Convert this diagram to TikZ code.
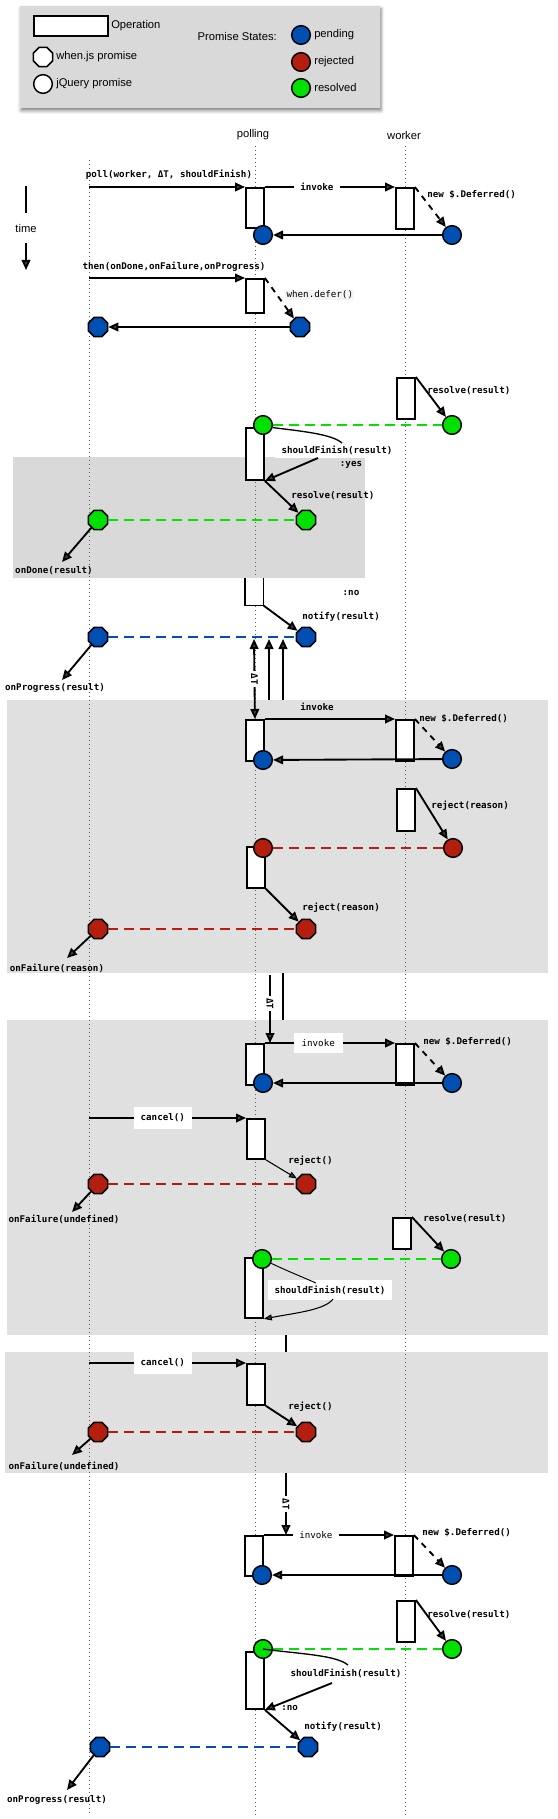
\documentclass[tikz,border=0pt]{standalone}
\usepackage{fontspec}
\setmainfont{Liberation Sans}
\newfontfamily\monof{DejaVu Sans Mono}
\usetikzlibrary{arrows.meta,shapes.geometric,shadows.blur}
\definecolor{pend}{RGB}{0,80,180}
\definecolor{rej}{RGB}{180,30,15}
\definecolor{res}{RGB}{0,225,0}
\definecolor{legbg}{RGB}{217,217,217}
\definecolor{secbg}{RGB}{224,224,224}
\tikzset{
 opbox/.style={draw, fill=white, line width=1.4pt, inner sep=0pt, minimum width=13.5pt, anchor=north west},
 jq/.style={circle, draw, line width=1.1pt, minimum size=14pt, inner sep=0pt},
 wj/.style={regular polygon, regular polygon sides=8, draw, line width=1.1pt, minimum size=15.5pt, inner sep=0pt},
 lbl/.style={font=\monof\bfseries\fontsize{6.9}{8}\selectfont, inner sep=0pt},
 lblr/.style={font=\monof\fontsize{6.9}{8}\selectfont, inner sep=0pt},
 stxt/.style={font=\fontsize{8.4}{10}\selectfont, inner sep=0pt},
 msg/.style={line width=1.4pt, -{Triangle[length=7.5pt,width=6.5pt]}},
 dmsg/.style={line width=1.4pt, {Triangle[length=7.5pt,width=6.5pt]}-{Triangle[length=7.5pt,width=6.5pt]}},
 thinmsg/.style={line width=0.8pt, -{Triangle[length=6pt,width=4.5pt]}},
 newd/.style={msg, dash pattern=on 4.5pt off 4pt},
 link/.style={line width=1.5pt, dash pattern=on 7.5pt off 4.5pt},
 life/.style={line width=0.6pt, black!65, dash pattern=on 0.75pt off 2.25pt},
 bar/.style={line width=1.4pt},
}
\begin{document}
\begin{tikzpicture}[x=0.75pt,y=-0.75pt]
\useasboundingbox (0,0) rectangle (557,1819);

% ---------- backgrounds ----------
\path[fill=legbg, blur shadow={shadow xshift=0.8pt, shadow yshift=-2pt, shadow blur radius=2.5pt, shadow opacity=50}] (20,6) rectangle (380,108);
\fill[legbg] (13,457) rectangle (365,578);
\fill[secbg] (7,700) rectangle (548,973);
\fill[secbg] (7,1020) rectangle (548,1335);
\fill[secbg] (5,1352) rectangle (548,1473);

% ---------- legend ----------
\node[opbox, line width=1.5pt, minimum width=55.5pt, minimum height=15pt] (legop) at (33,15) {};
\node[stxt, anchor=west] (legopt) at (111,26) {Operation};
\node[wj, fill=white] (legwj) at (43,57) {};
\node[stxt, anchor=west] (legwjt) at (56,57) {when.js promise};
\node[jq, fill=white] (legjq) at (43,84) {};
\node[stxt, anchor=west] (legjqt) at (56,84) {jQuery promise};
\node[stxt, anchor=east] (legps) at (277,37) {Promise States:};
\node[jq, fill=pend] (legpe) at (301,35) {};
\node[stxt, anchor=west] (legpet) at (314,35) {pending};
\node[jq, fill=rej] (legre) at (301,62) {};
\node[stxt, anchor=west] (legret) at (314,62) {rejected};
\node[jq, fill=res] (legrs) at (301,88) {};
\node[stxt, anchor=west] (legrst) at (314,88) {resolved};

% ---------- lifelines ----------
\node[stxt] (hpoll) at (253,135) {polling};
\node[stxt] (hwork) at (404,135) {worker};
\coordinate (lc0) at (89,160); \coordinate (lc1) at (89,1815);
\coordinate (lp0) at (255,146); \coordinate (lp1) at (255,1815);
\coordinate (lw0) at (405,146); \coordinate (lw1) at (405,1815);
\draw[life] (lc0) -- (lc1);
\draw[life] (lp0) -- (lp1);
\draw[life] (lw0) -- (lw1);

% time
\coordinate (t0) at (26,186); \coordinate (t1) at (26,270);
\draw[msg] (t0) -- node[stxt, fill=white, inner ysep=8pt] (timel) {time} (t1);

% ---------- section 1 ----------
\node[opbox, minimum height=30pt] (p1) at (245,187) {};
\node[opbox, minimum height=30.75pt] (w1) at (395,187) {};
\coordinate (c1s) at (89,187);
\draw[msg] (c1s) -- (p1.north west);
\node[lbl] (l1) at (169,175) {poll(worker, ΔT, shouldFinish)};
\draw[msg] (p1.north east) -- node[lbl, fill=white, pos=0.4, inner xsep=5pt, inner ysep=2pt] (l2) {invoke} (w1.north west);
\node[jq, fill=pend] (w1c) at (452,235) {};
\draw[newd] (w1.north east) -- (w1c);
\node[lbl, anchor=west] (l3) at (427,195) {new \$.Deferred()};
\node[jq, fill=pend] (p1c) at (263,235) {};
\draw[msg] (w1c) -- (p1c);

\node[opbox, minimum height=25.5pt] (p2) at (245,278) {};
\coordinate (c2s) at (89,278);
\draw[msg] (c2s) -- (p2.north west);
\node[lbl] (l4) at (174,267) {then(onDone,onFailure,onProgress)};
\node[wj, fill=pend] (p2o) at (300,327) {};
\draw[newd] (p2.north east) -- (p2o);
\node[lblr, anchor=west, fill=black!4, inner sep=1pt] (l5) at (285,295) {when.defer()};
\node[wj, fill=pend] (c1o) at (98,327) {};
\draw[msg] (p2o) -- (c1o);

% ---------- section 2 ----------
\node[opbox, minimum height=30.75pt] (w2) at (396,377) {};
\node[jq, fill=res] (w2c) at (452,425) {};
\draw[msg] (w2.north east) -- (w2c);
\node[lbl, anchor=west] (l6) at (427,391) {resolve(result)};
\node[opbox, minimum height=39pt] (p3) at (245,427) {};
\node[jq, fill=res] (p3c) at (263,425) {};
\draw[link, res] (p3c) -- (w2c);
\node[lbl, fill=white, inner xsep=5pt, inner ysep=3pt] (sf1) at (337,450) {shouldFinish(result)};
\coordinate (sf1a) at (342,443);
\coordinate (sf1b) at (318,458);
\draw[line width=1pt] (p3c.-15) .. controls (300,431) and (332,434) .. (sf1a);
\draw[msg] (sf1b) -- (p3.south east);
\node[lbl] (l7) at (351,465) {:yes};
\node[wj, fill=res] (p3o) at (306,520) {};
\draw[msg] (p3.south east) -- (p3o);
\node[lbl, anchor=west] (l8) at (291,496) {resolve(result)};
\node[wj, fill=res] (c2o) at (98,520) {};
\draw[link, res] (c2o) -- (p3o);
\coordinate (d2) at (62,562);
\draw[msg] (c2o) -- (d2);
\node[lbl] (l9) at (54,571) {onDone(result)};

% ---------- section 3 ----------
\node[fill=white, inner sep=0pt, minimum width=13.5pt, minimum height=20.25pt, anchor=north west] (p3b) at (245,578) {};
\draw[bar] (p3b.north west) |- (p3b.south east) -- (p3b.north east);
\node[lbl] (l10) at (351,593) {:no};
\node[wj, fill=pend] (p3o2) at (306,637) {};
\draw[msg] (p3b.south east) -- (p3o2);
\node[lbl, anchor=west] (l11) at (302,617) {notify(result)};
\node[wj, fill=pend] (c3o) at (98,637) {};
\draw[link, pend] (c3o) -- (p3o2);
\coordinate (d3) at (62,680);
\draw[msg] (c3o) -- (d3);
\node[lbl] (l12) at (55,688) {onProgress(result)};

\node[opbox, minimum height=30.75pt] (p4) at (245,719) {};
\node[opbox, minimum height=30.75pt] (w4) at (395,719) {};
\coordinate (dt1) at (254,639);
\draw[dmsg] (dt1) -- node[lbl, fill=white, rotate=-90, inner sep=1.5pt] (dtl1) {ΔT} (p4.north);
\coordinate (u1s) at (269,700); \coordinate (u1e) at (269,639);
\coordinate (u2s) at (283,700); \coordinate (u2e) at (283,639);
\draw[msg] (u1s) -- (u1e);
\draw[msg] (u2s) -- (u2e);
\draw[msg] (p4.north east) -- (w4.north west);
\node[lbl] (l13) at (317,707) {invoke};
\node[jq, fill=pend] (w4c) at (452,759) {};
\draw[newd] (w4.north east) -- (w4c);
\node[lbl, anchor=west] (l14) at (419,719) {new \$.Deferred()};
\node[jq, fill=pend] (p4c) at (263,760) {};
\draw[msg] (w4c) -- (p4c);

% ---------- section 4 ----------
\node[opbox, minimum height=31.5pt] (w5) at (396,788) {};
\node[jq, fill=rej] (w5c) at (453,848) {};
\draw[msg] (w5.north east) -- (w5c);
\node[lbl, anchor=west] (l15) at (431,806) {reject(reason)};
\node[opbox, minimum height=30.75pt] (p5) at (246,846) {};
\node[jq, fill=rej] (p5c) at (263,848) {};
\draw[link, rej] (p5c) -- (w5c);
\node[wj, fill=rej] (p5o) at (306,929) {};
\draw[msg] (p5.south east) -- (p5o);
\node[lbl, anchor=west] (l16) at (302,908) {reject(reason)};
\node[wj, fill=rej] (c5o) at (98,929) {};
\draw[link, rej] (c5o) -- (p5o);
\coordinate (d5) at (67,958);
\draw[msg] (c5o) -- (d5);
\node[lbl] (l17) at (57,968) {onFailure(reason)};

\coordinate (g1a) at (283,973); \coordinate (g1b) at (283,1020);
\draw[bar] (g1a) -- (g1b);
\coordinate (dt2) at (270,975); \coordinate (dt2e) at (270,1043);
\draw[msg] (dt2) -- node[lbl, fill=white, rotate=-90, pos=0.42, inner sep=1.5pt] (dtl2) {ΔT} (dt2e);

% ---------- section 5 ----------
\node[opbox, minimum height=30.75pt] (p6) at (245,1043) {};
\node[opbox, minimum height=30.75pt] (w6) at (395,1043) {};
\draw[msg] (p6.north east) -- node[lblr, fill=white, pos=0.41, inner xsep=6pt, inner ysep=5pt] (l18) {invoke} (w6.north west);
\node[jq, fill=pend] (w6c) at (452,1083) {};
\draw[newd] (w6.north east) -- (w6c);
\node[lbl, anchor=west] (l19) at (423,1042) {new \$.Deferred()};
\node[jq, fill=pend] (p6c) at (263,1083) {};
\draw[msg] (w6c) -- (p6c);
\node[opbox, minimum height=30pt] (p7) at (246,1118) {};
\coordinate (c7s) at (89,1118);
\draw[msg] (c7s) -- node[lbl, fill=white, pos=0.47, inner xsep=5pt, inner ysep=5pt] (l20) {cancel()} (p7.north west);
\node[wj, fill=rej] (p7o) at (306,1184) {};
\draw[thinmsg] (p7.south east) -- (p7o);
\node[lbl, anchor=west] (l21) at (288,1161) {reject()};
\node[wj, fill=rej] (c7o) at (98,1184) {};
\draw[link, rej] (c7o) -- (p7o);
\coordinate (d7) at (72,1212);
\draw[msg] (c7o) -- (d7);
\node[lbl] (l22) at (64,1219) {onFailure(undefined)};

% ---------- section 6 ----------
\node[opbox, minimum height=23.25pt] (w8) at (392,1217) {};
\node[jq, fill=res] (w8c) at (451,1259) {};
\draw[msg] (w8.north east) -- (w8c);
\node[lbl, anchor=west] (l23) at (423,1219) {resolve(result)};
\node[opbox, minimum height=45pt] (p8) at (244,1257) {};
\node[jq, fill=res] (p8c) at (262,1259) {};
\draw[link, res] (p8c) -- (w8c);
\node[lbl, fill=white, inner xsep=5pt, inner ysep=4pt] (sf2) at (330,1290) {shouldFinish(result)};
\coordinate (sf2a) at (316,1283);
\coordinate (sf2b) at (333,1299);
\draw[line width=0.7pt] (p8c.-25) .. controls (285,1270) and (300,1276) .. (sf2a);
\draw[thinmsg] (sf2b) .. controls (325,1310) and (295,1313) .. (p8.south east);

\coordinate (g2a) at (286,1335); \coordinate (g2b) at (286,1352);
\draw[bar] (g2a) -- (g2b);

\node[opbox, minimum height=30.75pt] (p9) at (246,1363) {};
\coordinate (c9s) at (89,1363);
\draw[msg] (c9s) -- node[lbl, fill=white, pos=0.47, inner xsep=5pt, inner ysep=5pt] (l24) {cancel()} (p9.north west);
\node[wj, fill=rej] (p9o) at (306,1432) {};
\draw[msg] (p9.south east) -- (p9o);
\node[lbl, anchor=west] (l25) at (288,1407) {reject()};
\node[wj, fill=rej] (c9o) at (98,1432) {};
\draw[link, rej] (c9o) -- (p9o);
\coordinate (d9) at (72,1455);
\draw[msg] (c9o) -- (d9);
\node[lbl] (l26) at (64,1466) {onFailure(undefined)};

% ---------- section 7 ----------
\coordinate (dt3) at (286,1473); \coordinate (dt3e) at (286,1535);
\draw[msg] (dt3) -- node[lbl, fill=white, rotate=-90, inner sep=1.5pt] (dtl3) {ΔT} (dt3e);
\node[opbox, minimum height=30pt] (p10) at (244,1535) {};
\node[opbox, minimum height=30pt] (w10) at (394,1535) {};
\draw[msg] (p10.north east) -- node[lblr, fill=white, pos=0.4, inner xsep=5pt, inner ysep=2pt] (l27) {invoke} (w10.north west);
\node[jq, fill=pend] (w10c) at (452,1575) {};
\draw[newd] (w10.north east) -- (w10c);
\node[lbl, anchor=west] (l28) at (422,1533) {new \$.Deferred()};
\node[jq, fill=pend] (p10c) at (262,1575) {};
\draw[msg] (w10c) -- (p10c);

% ---------- section 8 ----------
\node[opbox, minimum height=30.75pt] (w11) at (396,1600) {};
\node[jq, fill=res] (w11c) at (452,1649) {};
\draw[msg] (w11.north east) -- (w11c);
\node[lbl, anchor=west] (l29) at (427,1615) {resolve(result)};
\node[opbox, minimum height=42.75pt] (p11) at (245,1651) {};
\node[jq, fill=res] (p11c) at (263,1649) {};
\draw[link, res] (p11c) -- (w11c);
\coordinate (sf3a) at (348,1665);
\coordinate (sf3b) at (332,1683);
\draw[line width=1pt] (p11c.center) .. controls (300,1654) and (336,1655) .. (sf3a);
\node[lbl] (sf3) at (346,1673) {shouldFinish(result)};
\draw[msg] (sf3b) -- (p11.south east);
\node[lbl, anchor=west] (l30) at (281,1708) {:no};
\node[wj, fill=pend] (p11o) at (308,1747) {};
\draw[msg] (p11.south east) -- (p11o);
\node[lbl, anchor=west] (l31) at (304,1727) {notify(result)};
\node[wj, fill=pend] (c11o) at (100,1747) {};
\draw[link, pend] (c11o) -- (p11o);
\coordinate (d11) at (67,1790);
\draw[msg] (c11o) -- (d11);
\node[lbl] (l32) at (57,1800) {onProgress(result)};
\end{tikzpicture}
\end{document}
